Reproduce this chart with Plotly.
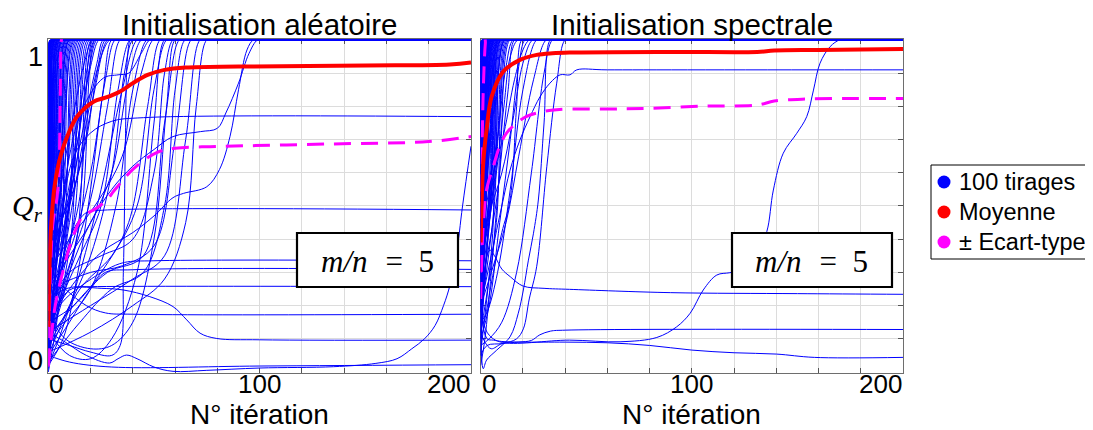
import plotly.graph_objects as go

FONT = "Liberation Sans, Arial, sans-serif"
MATH = "Liberation Serif, Times New Roman, serif"

# ---------------- LEFT PANEL : Initialisation aléatoire ----------------
# fast runs: (start value, mid iteration, mid value, iteration where Q_r reaches 1)
LEFT_FAST = [
    (0.05, 0.4, 0.55, 0.9), (0.28, 0.4, 0.75, 0.9), (0.12, 0.5, 0.6, 1.1), (0.40, 0.5, 0.8, 1.1),
    (0.02, 0.6, 0.45, 1.3), (0.33, 0.6, 0.75, 1.3), (0.18, 0.7, 0.6, 1.5), (0.08, 0.8, 0.5, 1.7),
    (0.45, 0.8, 0.8, 1.7), (0.22, 0.9, 0.65, 1.9), (0.00, 1.0, 0.4, 2.1), (0.30, 1.0, 0.7, 2.2),
    (0.15, 1.2, 0.55, 2.4), (0.50, 1.1, 0.85, 2.4), (0.06, 1.3, 0.45, 2.7), (0.25, 1.4, 0.65, 2.9),
    (0.38, 1.5, 0.75, 3.1), (0.10, 1.7, 0.5, 3.4), (0.20, 1.8, 0.6, 3.6), (0.03, 2.0, 0.4, 3.9),
    (0.32, 2.0, 0.7, 4.1), (0.14, 2.2, 0.5, 4.4), (0.42, 2.3, 0.8, 4.6), (0.07, 2.6, 0.45, 4.9),
    (0.26, 2.7, 0.6, 5.2), (0.17, 3.0, 0.55, 5.6), (0.01, 3.2, 0.4, 6.0), (0.35, 3.3, 0.7, 6.3),
    (0.11, 3.6, 0.5, 6.7), (0.23, 3.8, 0.6, 7.1), (0.04, 4.2, 0.4, 7.6), (0.29, 4.4, 0.65, 8.0),
    (0.16, 4.8, 0.5, 8.5), (0.09, 5.2, 0.45, 9.0), (0.36, 5.4, 0.7, 9.5), (0.19, 5.8, 0.55, 10.0),
    (0.02, 6.3, 0.4, 10.6), (0.27, 6.6, 0.6, 11.2), (0.13, 7.0, 0.5, 11.8), (0.44, 7.2, 0.75, 12.4),
    (0.06, 7.8, 0.45, 13.0), (0.21, 8.2, 0.55, 13.7), (0.31, 8.8, 0.6, 14.4), (0.10, 9.4, 0.45, 15.2),
    (0.18, 10.0, 0.5, 16.0), (0.05, 10.6, 0.4, 16.8), (0.24, 11.2, 0.55, 17.6), (0.14, 12.0, 0.45, 18.5),
    (0.34, 12.6, 0.6, 19.4), (0.08, 13.4, 0.4, 20.3), (0.20, 14.2, 0.5, 21.2), (0.12, 15.0, 0.45, 22.2),
    (0.03, 0.5, 0.5, 1.0), (0.16, 0.9, 0.55, 1.8), (0.24, 1.6, 0.6, 3.3), (0.09, 2.4, 0.5, 4.7),
    (0.13, 3.4, 0.5, 6.5), (0.21, 4.6, 0.55, 8.3), (0.07, 5.6, 0.45, 9.8), (0.37, 2.8, 0.75, 5.4),
]

# slower runs that still reach Q_r = 1 (iterations, values)
LEFT_SLOW = [
    ([0, 5, 10, 16, 26, 33, 38, 44, 48], [0.1, 0.4, 0.65, 0.79, 0.885, 0.895, 0.9, 0.96, 1]),
    ([0, 4, 10, 18, 24, 29], [0.05, 0.2, 0.45, 0.75, 0.93, 1]),
    ([0, 6, 12, 20, 27, 31.6], [0.2, 0.3, 0.4, 0.6, 0.88, 1]),
    ([0, 8, 15, 25, 33, 38.7], [0.12, 0.25, 0.35, 0.5, 0.85, 1]),
    ([0, 5, 15, 25, 35, 42], [0.02, 0.1, 0.3, 0.55, 0.85, 1]),
    ([0, 10, 20, 30, 38, 44], [0.25, 0.35, 0.45, 0.6, 0.88, 1]),
    ([0, 8, 20, 32, 40, 46.6], [0.08, 0.15, 0.25, 0.5, 0.85, 1]),
    ([0, 10, 22, 35, 44, 49.6], [0.3, 0.4, 0.5, 0.65, 0.9, 1]),
    ([0, 12, 25, 38, 47, 52.9], [0.15, 0.2, 0.3, 0.45, 0.8, 1]),
    ([0, 15, 30, 42, 50, 56], [0.05, 0.25, 0.35, 0.5, 0.85, 1]),
    ([0, 10, 25, 40, 50, 55, 59], [0.2, 0.3, 0.35, 0.4, 0.6, 0.9, 1]),
    ([0, 12, 28, 45, 55, 62], [0.1, 0.2, 0.3, 0.35, 0.75, 1]),
    ([0, 15, 30, 45, 55, 60, 64.7], [0.03, 0.15, 0.25, 0.3, 0.5, 0.85, 1]),
    ([0, 20, 35, 50, 60, 67.6], [0.25, 0.3, 0.32, 0.38, 0.7, 1]),
    ([0, 20, 40, 55, 65, 71.8], [0.12, 0.2, 0.28, 0.35, 0.7, 1]),
    ([0, 20, 40, 55, 65, 70, 75], [0.06, 0.12, 0.2, 0.28, 0.45, 0.8, 1]),
    ([0, 4, 8, 13, 18, 22], [0.0, 0.15, 0.4, 0.7, 0.9, 1]),
    ([0, 3, 8, 14, 20, 24], [0.18, 0.35, 0.5, 0.7, 0.92, 1]),
    ([0, 5, 11, 17, 23, 26], [0.1, 0.3, 0.55, 0.75, 0.93, 1]),
    ([0, 6, 12, 18, 23, 27], [0.3, 0.45, 0.55, 0.7, 0.9, 1]),
    ([0, 3, 7, 12, 17, 21], [0.22, 0.4, 0.6, 0.78, 0.93, 1]),
    ([0, 4, 9, 14, 19, 23], [0.07, 0.25, 0.5, 0.7, 0.9, 1]),
    ([0, 5, 10, 16, 22, 28], [0.35, 0.4, 0.5, 0.65, 0.85, 1]),
    ([0, 7, 14, 20, 26, 30], [0.02, 0.1, 0.3, 0.55, 0.85, 1]),
    ([0, 6, 13, 20, 28, 34], [0.15, 0.25, 0.38, 0.52, 0.8, 1]),
    ([0, 10, 20, 30, 36, 40], [0.08, 0.2, 0.35, 0.6, 0.9, 1]),
    ([0, 8, 20, 30, 40, 50, 56, 60], [0.18, 0.1, 0.07, 0.08, 0.15, 0.4, 0.8, 1]),
    ([0, 10, 20, 30, 42, 50, 55], [0.12, 0.05, 0.04, 0.1, 0.3, 0.75, 1]),
    ([0, 10, 20, 30, 40, 50, 59, 72, 80, 84, 90, 95, 99],
     [0.08, 0.3, 0.45, 0.55, 0.62, 0.67, 0.709, 0.724, 0.734, 0.78, 0.87, 0.96, 1]),
    ([0, 10, 25, 40, 50, 59, 64, 75, 81, 86, 90, 94, 97],
     [0.15, 0.25, 0.36, 0.42, 0.47, 0.525, 0.538, 0.558, 0.61, 0.71, 0.85, 0.97, 1]),
    ([0, 10, 20, 30, 34, 35.5, 36.5, 37.5, 39], [0.1, 0.08, 0.06, 0.05, 0.08, 0.3, 0.7, 0.95, 1]),
]

# runs that stall below 1 (iterations, values)
LEFT_STALLED = [
    ([0, 5, 12, 20, 30, 45, 200], [0.05, 0.4, 0.648, 0.72, 0.755, 0.766, 0.769]),
    ([0, 5, 12, 18, 25, 200], [0.1, 0.3, 0.43, 0.48, 0.487, 0.488]),
    ([0, 8, 18, 28, 36, 50, 200], [0.15, 0.22, 0.27, 0.31, 0.33, 0.335, 0.335]),
    ([0, 10, 20, 27, 40, 200], [0.05, 0.15, 0.25, 0.3, 0.308, 0.309]),
    ([0, 5, 11, 20, 200], [0.2, 0.24, 0.255, 0.257, 0.257]),
    ([0, 8, 18, 27, 40, 200], [0.3, 0.25, 0.2, 0.178, 0.174, 0.174]),
    ([0, 6, 11.7, 25, 35.5, 48, 59, 65.5, 71.8, 79.7, 100, 200],
     [0.15, 0.22, 0.252, 0.252, 0.247, 0.227, 0.197, 0.157, 0.117, 0.101, 0.097, 0.096]),
    ([0, 10, 30, 100, 200], [0.05, 0.03, 0.015, 0.018, 0.022]),
    ([0, 8, 18, 29, 33, 37, 42, 50, 59, 75, 100, 135, 155, 165, 172, 178, 183, 187, 190, 193, 196, 200],
     [0.12, 0.09, 0.05, 0.027, 0.04, 0.051, 0.04, 0.015, 0.002, 0.005, 0.012, 0.016, 0.026, 0.04,
      0.07, 0.1, 0.14, 0.2, 0.26, 0.35, 0.5, 0.68]),
]

LEFT_MEAN_X = [0, 0.5, 1, 2, 3, 4.3, 6, 9, 13.7, 21.6, 27, 34, 40, 47, 55, 65, 90, 150, 190, 200]
LEFT_MEAN_Y = [0.136, 0.30, 0.40, 0.50, 0.56, 0.61, 0.655, 0.71, 0.77, 0.815, 0.826, 0.845, 0.87,
               0.895, 0.91, 0.917, 0.92, 0.923, 0.926, 0.932]
LEFT_LO_X = [0, 1, 3.2, 6.3, 11.8, 16.5, 22, 28, 31, 40, 51, 60, 80, 135, 180, 200]
LEFT_LO_Y = [0.016, 0.08, 0.197, 0.287, 0.41, 0.47, 0.49, 0.52, 0.545, 0.61, 0.66, 0.674, 0.679,
             0.687, 0.694, 0.709]
LEFT_HI_X = [0, 0.6, 1.3, 2.2, 4, 5, 5.5, 5.8, 6.2, 8, 200]
LEFT_HI_Y = [0.02, 0.2, 0.35, 0.45, 0.52, 0.6, 0.75, 0.9, 1.0, 1.05, 1.08]

# ---------------- RIGHT PANEL : Initialisation spectrale ----------------
RIGHT_FAST = [
    (0.45, 0.2, 0.75, 0.4), (0.20, 0.2, 0.6, 0.5), (0.60, 0.2, 0.85, 0.5), (0.35, 0.3, 0.7, 0.6),
    (0.70, 0.3, 0.9, 0.6), (0.10, 0.3, 0.5, 0.7), (0.50, 0.4, 0.8, 0.8), (0.30, 0.4, 0.65, 0.8),
    (0.55, 0.4, 0.8, 0.9), (0.25, 0.5, 0.6, 1.0), (0.65, 0.5, 0.85, 1.0), (0.40, 0.5, 0.7, 1.1),
    (0.15, 0.6, 0.55, 1.2), (0.50, 0.6, 0.75, 1.2), (0.38, 0.7, 0.7, 1.3), (0.62, 0.7, 0.85, 1.4),
    (0.28, 0.8, 0.6, 1.5), (0.48, 0.8, 0.75, 1.6), (0.72, 0.8, 0.9, 1.6), (0.33, 0.9, 0.65, 1.7),
    (0.05, 0.9, 0.45, 1.8), (0.45, 1.0, 0.75, 1.9), (0.22, 1.0, 0.6, 2.0), (0.58, 1.1, 0.8, 2.1),
    (0.36, 1.1, 0.7, 2.2), (0.12, 1.2, 0.5, 2.4), (0.52, 1.3, 0.75, 2.5), (0.27, 1.4, 0.6, 2.7),
    (0.66, 1.4, 0.85, 2.8), (0.42, 1.5, 0.7, 2.9), (0.18, 1.6, 0.55, 3.1), (0.55, 1.7, 0.8, 3.2),
    (0.31, 1.8, 0.65, 3.4), (0.46, 1.9, 0.7, 3.6), (0.08, 2.0, 0.45, 3.8), (0.63, 2.0, 0.85, 3.9),
    (0.24, 2.2, 0.6, 4.1), (0.39, 2.3, 0.7, 4.3), (0.57, 2.4, 0.8, 4.5), (0.14, 2.6, 0.5, 4.8),
    (0.34, 2.7, 0.65, 5.0), (0.49, 2.8, 0.75, 5.2), (0.20, 3.0, 0.55, 5.5), (0.68, 3.0, 0.85, 5.6),
    (0.29, 3.2, 0.6, 5.9), (0.43, 3.4, 0.7, 6.2), (0.10, 3.6, 0.45, 6.5), (0.53, 3.7, 0.75, 6.8),
    (0.37, 3.9, 0.65, 7.1), (0.23, 4.1, 0.55, 7.4), (0.60, 4.2, 0.8, 7.7), (0.16, 4.5, 0.5, 8.0),
    (0.44, 4.7, 0.7, 8.4), (0.30, 5.0, 0.6, 8.8), (0.51, 5.2, 0.75, 9.2), (0.06, 5.5, 0.4, 9.6),
    (0.26, 5.8, 0.55, 10.0), (0.40, 6.1, 0.65, 10.5), (0.18, 6.4, 0.5, 11.0), (0.58, 6.6, 0.8, 11.5),
    (0.33, 7.0, 0.6, 12.0), (0.12, 7.4, 0.45, 12.6), (0.47, 7.8, 0.7, 13.2), (0.25, 8.2, 0.55, 13.8),
    (0.42, 0.3, 0.7, 0.7), (0.58, 0.6, 0.85, 1.2), (0.32, 1.2, 0.65, 2.3), (0.47, 2.1, 0.75, 4.0),
    (0.21, 2.5, 0.6, 4.6), (0.36, 3.3, 0.65, 6.0), (0.54, 4.4, 0.8, 8.2), (0.28, 5.3, 0.6, 9.4),
    (0.45, 0.9, 0.75, 1.8), (0.61, 1.5, 0.85, 3.0), (0.17, 1.9, 0.55, 3.5), (0.39, 2.6, 0.7, 5.1),
    (0.50, 3.5, 0.75, 6.6), (0.19, 4.8, 0.5, 8.6), (0.35, 6.3, 0.6, 11.2), (0.56, 0.9, 0.8, 1.9),
    (0.30, 0.6, 0.65, 1.1), (0.74, 1.0, 0.9, 2.0), (0.41, 1.7, 0.7, 3.3),
]

RIGHT_SLOW = [
    ([0, 3, 8, 12, 15.3], [0.3, 0.45, 0.7, 0.92, 1]),
    ([0, 1.2, 6, 10, 13.9, 17, 19.5], [0.25, 0.147, 0.3, 0.42, 0.518, 0.8, 1]),
    ([0, 4, 9, 14, 18, 21], [0.1, 0.2, 0.45, 0.7, 0.92, 1]),
    ([0, 5, 10, 15, 20, 24.5], [0.4, 0.5, 0.6, 0.75, 0.93, 1]),
    ([0, 3, 8, 14, 20, 26.5], [0.15, 0.18, 0.3, 0.55, 0.85, 1]),
    ([0, 5, 12, 18, 25, 31], [0.2, 0.3, 0.45, 0.65, 0.88, 1]),
    ([0, 4, 10, 17, 24, 30, 34], [0.08, 0.1, 0.15, 0.3, 0.6, 0.9, 1]),
    ([0, 2, 6, 11, 16, 20, 23], [0.5, 0.55, 0.6, 0.72, 0.88, 0.97, 1]),
    ([0, 2, 5, 9, 13, 16], [0.02, 0.1, 0.3, 0.6, 0.85, 1]),
    ([0, 3, 7, 11, 14, 17.5], [0.35, 0.42, 0.58, 0.8, 0.95, 1]),
    ([0, 3, 10.6, 17, 20.2, 23, 26.5, 31.3, 36, 40],
     [0.05, 0.08, 0.086, 0.1, 0.13, 0.22, 0.317, 0.618, 0.87, 1]),
    ([0, 1.2, 2.8, 7.6, 13.9, 17.8, 20.2, 22.6, 25, 27.3, 30, 33],
     [0.15, 0.01, 0.036, 0.066, 0.106, 0.177, 0.247, 0.337, 0.418, 0.518, 0.75, 1]),
    ([0, 3, 9, 42, 66, 83.4, 92.8, 99.2, 105.4, 111.8, 118, 125, 131, 135.5, 138.6, 143.3, 149.7,
      154.4, 157.6, 160.7, 165.5, 170],
     [0.2, 0.12, 0.091, 0.096, 0.091, 0.104, 0.136, 0.177, 0.247, 0.292, 0.299, 0.31, 0.36, 0.423,
      0.548, 0.659, 0.719, 0.769, 0.849, 0.93, 0.98, 1]),
]

RIGHT_STALLED = [
    ([0, 5, 10, 13.9, 18.6, 23.4, 28.1, 32.8, 37.6, 42.3, 45.5, 60, 200],
     [0.2, 0.35, 0.5, 0.608, 0.699, 0.769, 0.829, 0.87, 0.895, 0.895, 0.91, 0.91, 0.91]),
    ([0, 1, 2.5, 4.4, 7, 10, 14, 20, 30, 42, 90, 150, 200],
     [0.05, 0.2, 0.34, 0.367, 0.345, 0.31, 0.287, 0.259, 0.252, 0.249, 0.239, 0.236, 0.234]),
    ([0, 2, 5, 10, 18, 24, 28, 33, 40, 200],
     [0.12, 0.09, 0.07, 0.085, 0.09, 0.095, 0.112, 0.123, 0.126, 0.128]),
    ([0, 3, 6, 10, 20, 40, 60, 80, 100, 120, 140, 158, 200],
     [0.2, 0.1, 0.096, 0.092, 0.09, 0.09, 0.088, 0.08, 0.066, 0.058, 0.054, 0.044, 0.044]),
]

RIGHT_MEAN_X = [0, 0.5, 1.2, 2.8, 5.2, 10.7, 18.6, 26.5, 34, 42, 90, 131, 139, 160, 200]
RIGHT_MEAN_Y = [0.39, 0.52, 0.63, 0.73, 0.83, 0.905, 0.94, 0.955, 0.96, 0.962, 0.964, 0.964,
                0.968, 0.97, 0.973]
RIGHT_LO_X = [0, 0.7, 1.5, 2.8, 6, 9, 12.3, 17, 21.8, 26.5, 36, 60, 79, 107, 131, 139, 154, 200]
RIGHT_LO_Y = [0.22, 0.38, 0.47, 0.55, 0.62, 0.68, 0.72, 0.75, 0.77, 0.78, 0.79, 0.792, 0.794,
              0.801, 0.804, 0.816, 0.822, 0.824]
RIGHT_HI_X = [0, 0.2, 0.6, 1.1, 1.6, 2.2, 3, 200]
RIGHT_HI_Y = [0.3, 0.45, 0.65, 0.82, 0.92, 0.99, 1.03, 1.06]

X_TICKS = [0, 100, 200]
Y_TICKS = ["1", "0"]
LEGEND_NAMES = ["100 tirages", "Moyenne", "\u00b1 Ecart-type"]
RATIO_LEFT = "m/n"            # italic part
RATIO_RIGHT = "\u2002=\u20025"  # upright part

# ------------------------------------------------------------------
# The page body keeps the browser's 8px margin, so the figure is sized to the
# window minus that offset, and window pixel positions are converted below.
WIN_W, WIN_H, OFF = 1093, 430, 8
W, H = WIN_W - OFF, WIN_H - OFF


def px(x):
    return (x - OFF) / W


def py(y):
    return 1 - (y - OFF) / H


BLUE, RED, MAGENTA = "#0000ff", "#ff0000", "#ff00ff"
X_END = 200
PAD = 3  # short flat knot after convergence so the spline stays on Q_r = 1

fig = go.Figure()


def run(xs, ys, xa, ya):
    fig.add_trace(go.Scatter(
        x=xs, y=ys, xaxis=xa, yaxis=ya, mode="lines", showlegend=False, hoverinfo="skip",
        line=dict(color=BLUE, width=1, shape="spline", smoothing=1)))


def add_runs(fast, slow, stalled, xa, ya):
    for y0, xm, ym, xt in fast:
        run([0, xm, xt, xt + PAD, X_END], [y0, ym, 1, 1, 1], xa, ya)
    for xs, ys in slow:
        run(list(xs) + [xs[-1] + PAD, X_END], list(ys) + [1, 1], xa, ya)
    for xs, ys in stalled:
        run(xs, ys, xa, ya)


def add_stats(mx, my, lx, ly, hx, hy, xa, ya):
    for sx, sy in ((lx, ly), (hx, hy)):
        fig.add_trace(go.Scatter(
            x=sx, y=sy, xaxis=xa, yaxis=ya, mode="lines", showlegend=False, hoverinfo="skip",
            line=dict(color=MAGENTA, width=3, dash="17px,10px", shape="spline")))
    fig.add_trace(go.Scatter(
        x=mx, y=my, xaxis=xa, yaxis=ya, mode="lines", showlegend=False, hoverinfo="skip",
        line=dict(color=RED, width=4, shape="spline")))


add_runs(LEFT_FAST, LEFT_SLOW, LEFT_STALLED, "x", "y")
add_runs(RIGHT_FAST, RIGHT_SLOW, RIGHT_STALLED, "x2", "y2")
add_stats(LEFT_MEAN_X, LEFT_MEAN_Y, LEFT_LO_X, LEFT_LO_Y, LEFT_HI_X, LEFT_HI_Y, "x", "y")
add_stats(RIGHT_MEAN_X, RIGHT_MEAN_Y, RIGHT_LO_X, RIGHT_LO_Y, RIGHT_HI_X, RIGHT_HI_Y, "x2", "y2")

# ---------------- layout ----------------
LEFT_PX = (48.3, 471.0)
RIGHT_PX = (480.7, 903.0)
TOP_PX, BOT_PX = 39.3, 373.0

axis_common = dict(showgrid=True, gridcolor="#dcdcdc", gridwidth=1, zeroline=False,
                   showline=True, linecolor="#6e6e6e", linewidth=1, mirror="ticks",
                   ticks="inside", ticklen=5, tickcolor="#555555", showticklabels=False,
                   layer="below traces")
xcommon = dict(axis_common, range=[0, 200], dtick=20, tick0=0)
ycommon = dict(axis_common, range=[-0.003, 1.002], dtick=0.1, tick0=0)

fig.update_layout(
    width=W, height=H, margin=dict(l=0, r=0, t=0, b=0),
    paper_bgcolor="white", plot_bgcolor="white", hovermode=False, showlegend=False,
    font=dict(family=FONT, color="black"),
    xaxis=dict(xcommon, domain=[px(LEFT_PX[0]), px(LEFT_PX[1])], anchor="y"),
    xaxis2=dict(xcommon, domain=[px(RIGHT_PX[0]), px(RIGHT_PX[1])], anchor="y2"),
    yaxis=dict(ycommon, domain=[py(BOT_PX), py(TOP_PX)], anchor="x"),
    yaxis2=dict(ycommon, domain=[py(BOT_PX), py(TOP_PX)], anchor="x2"),
)

ann = []
shapes = []


def label(text, x, y, size, family=FONT, xanchor="center", xref="paper", style="normal"):
    ann.append(dict(text=text, xref=xref, yref="paper", x=x, y=y, xanchor=xanchor,
                    yanchor="middle", showarrow=False, borderpad=0,
                    font=dict(family=family, size=size, color="black", style=style)))


# panel titles and x-axis titles
for (a, b), title in ((LEFT_PX, "Initialisation aléatoire"), (RIGHT_PX, "Initialisation spectrale")):
    label(title, px((a + b) / 2), py(24.8), 29.5)
    label("N° itération", px((a + b) / 2), py(414.3), 28)
# x tick labels (end labels kept inside the frame)
for xr in ("x", "x2"):
    for v in X_TICKS:
        anchor = "left" if v == X_TICKS[0] else ("right" if v == X_TICKS[-1] else "center")
        label(str(v), v, py(384), 26, xanchor=anchor, xref=xr)
# y tick labels
for txt, yy in zip(Y_TICKS, (57.5, 360.5)):
    label(txt, px(44), py(yy), 27, xanchor="right")
# y axis title
label("Q<sub>r</sub>", px(27), py(208), 30, family=MATH, style="italic")

# m/n = 5 boxes
for x0, x1 in ((297, 458), (732, 892)):
    shapes.append(dict(type="rect", xref="paper", yref="paper", x0=px(x0), x1=px(x1),
                       y0=py(287), y1=py(233), layer="above",
                       line=dict(color="black", width=2.2), fillcolor="white"))
    split = (x0 + x1) / 2 - 8.5
    label(RATIO_LEFT, px(split), py(261), 31, family=MATH, xanchor="right", style="italic")
    label(RATIO_RIGHT, px(split), py(261), 31, family=MATH, xanchor="left")

# legend box (runs past the figure's right edge, as in the reference)
shapes.append(dict(type="rect", xref="paper", yref="paper", x0=px(931), x1=px(1100),
                   y0=py(259), y1=py(165), layer="above",
                   line=dict(color="black", width=1), fillcolor="white"))
for name, col, yy in zip(LEGEND_NAMES, (BLUE, RED, MAGENTA), (182, 212, 242)):
    shapes.append(dict(type="circle", xref="paper", yref="paper", x0=px(937.5), x1=px(950.5),
                       y0=py(yy + 6.5), y1=py(yy - 6.5), layer="above",
                       line=dict(color=col, width=0), fillcolor=col))
    label(name, px(958), py(yy), 23.5, xanchor="left")

fig.update_layout(annotations=ann, shapes=shapes)
fig.write_html("out.html")
